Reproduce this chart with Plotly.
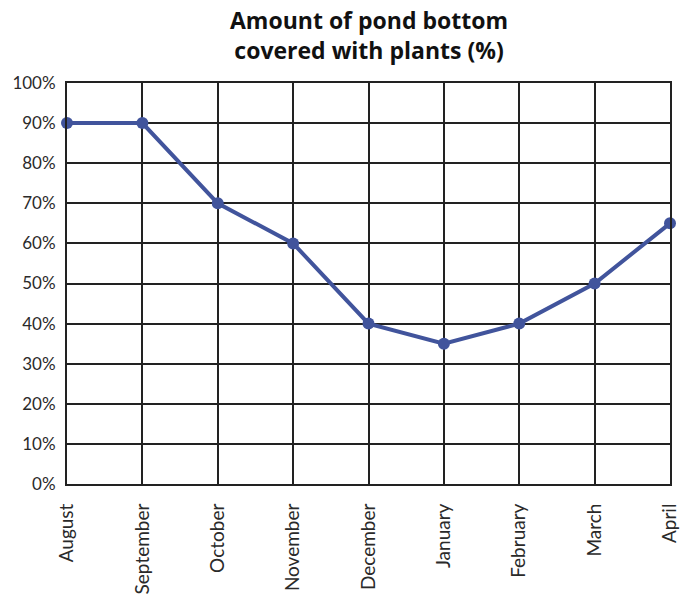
import plotly.graph_objects as go

months = ["August", "September", "October", "November", "December",
          "January", "February", "March", "April"]
coverage = [90, 90, 70, 60, 40, 35, 40, 50, 65]
y_ticks = [0, 10, 20, 30, 40, 50, 60, 70, 80, 90, 100]
y_tick_labels = [f"{v}%" for v in y_ticks]

title_lines = ["Amount of pond bottom", "covered with plants (%)"]
line_color = "#41549C"
font_family = "Lato, 'Open Sans', sans-serif"
title_family = "'Open Sans', Lato, sans-serif"

W, H = 690, 604
M_L, M_R, M_T, M_B = 67, 10, 83, 120
plot_h = H - M_T - M_B


def paper_y(px):
    """Convert a pixel row (from the top of the figure) to paper y."""
    return (H - M_B - px) / plot_h


fig = go.Figure()
fig.add_trace(go.Scatter(
    x=months,
    y=coverage,
    mode="lines+markers",
    line=dict(color=line_color, width=4),
    marker=dict(color=line_color, size=12),
    cliponaxis=False,
    showlegend=False,
))

fig.add_annotation(
    text="<br>".join(title_lines),
    xref="paper", yref="paper",
    x=0.5, y=paper_y(35),
    xanchor="center", yanchor="middle",
    showarrow=False,
    font=dict(size=23, family=title_family, color="#111111", weight="bold"),
)

fig.update_layout(
    width=W,
    height=H,
    paper_bgcolor="white",
    plot_bgcolor="white",
    margin=dict(l=M_L, r=M_R, t=M_T, b=M_B),
    font=dict(family=font_family, color="#222222"),
)

fig.update_xaxes(
    type="category",
    range=[0, len(months) - 1],
    showgrid=True,
    gridcolor="#222222",
    gridwidth=1.6,
    showline=True,
    linecolor="#222222",
    linewidth=2,
    mirror=True,
    tickangle=-90,
    tickfont=dict(size=19, color="#2a2a2a"),
    ticklabelstandoff=10,
    zeroline=False,
)

fig.update_yaxes(
    range=[0, 100],
    tickvals=y_ticks,
    ticktext=y_tick_labels,
    showgrid=True,
    gridcolor="#222222",
    gridwidth=1.6,
    showline=True,
    linecolor="#222222",
    linewidth=2,
    mirror=True,
    tickfont=dict(size=17, color="#2a2a2a"),
    ticklabelstandoff=6,
    zeroline=False,
)

fig.write_html("out.html")
